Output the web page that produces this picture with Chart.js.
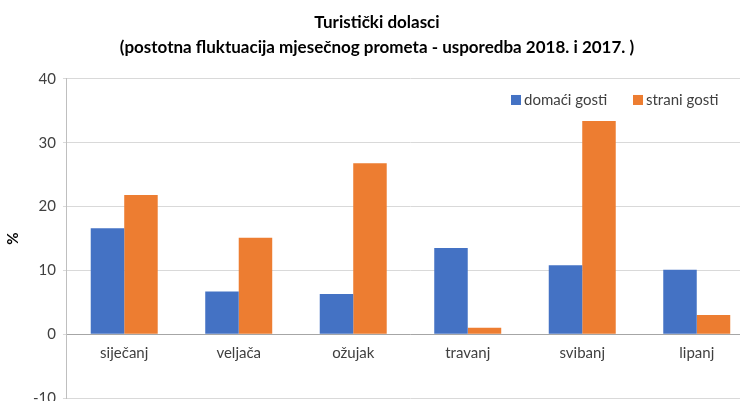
<!DOCTYPE html>
<html lang="hr">
<head>
    <meta charset="UTF-8">
    <title>Turistički dolasci</title>
    <script src="https://cdn.jsdelivr.net/npm/chart.js"></script>
    <style>
        html, body { margin: 0; padding: 0; background: #fff; overflow: hidden; }
        #wrap { width: 758px; height: 414px; }
    </style>
</head>
<body>
    <div id="wrap"><canvas id="chart"></canvas></div>

    <script>
        // podaci
        const months = ["siječanj", "veljača", "ožujak", "travanj", "svibanj", "lipanj"];
        const domestic = [16.6, 6.7, 6.3, 13.5, 10.8, 10.1];
        const foreign = [21.8, 15.1, 26.8, 1.0, 33.4, 3.0];
        const seriesNames = ["domaći gosti", "strani gosti"];
        const titleLines = ["Turistički dolasci", "(postotna fluktuacija mjesečnog prometa - usporedba 2018. i 2017. )"];

        const font = "Lato, 'Open Sans', sans-serif";

        // legenda unutar područja grafa, gore desno
        const innerLegend = {
            id: "innerLegend",
            afterDraw(chart) {
                const c = chart.ctx;
                const area = chart.chartArea;
                c.save();
                c.font = "15px " + font;
                c.textBaseline = "middle";
                let x = 511;
                const y = area.top + 21;
                chart.data.datasets.forEach(ds => {
                    c.fillStyle = ds.backgroundColor;
                    c.fillRect(x, y - 5, 10, 10);
                    c.fillStyle = "#404040";
                    c.fillText(ds.label, x + 13, y);
                    x += 122;
                });
                c.restore();
            }
        };

        new Chart(document.getElementById("chart"), {
            type: "bar",
            data: {
                labels: months,
                datasets: [
                    { label: seriesNames[0], data: domestic, backgroundColor: "#4472c4", borderWidth: 0 },
                    { label: seriesNames[1], data: foreign, backgroundColor: "#ed7d31", borderWidth: 0 }
                ]
            },
            options: {
                responsive: true,
                maintainAspectRatio: false,
                animation: false,
                layout: { padding: { left: 0, right: 4, top: 0, bottom: 0 } },
                datasets: { bar: { categoryPercentage: 0.585, barPercentage: 1 } },
                plugins: {
                    legend: { display: false },
                    tooltip: { enabled: false },
                    title: {
                        display: true,
                        text: titleLines,
                        color: "#000",
                        font: { family: font, size: 17, weight: "bold", lineHeight: 1.47 },
                        padding: { top: 10, bottom: 19 }
                    }
                },
                scales: {
                    x: {
                        position: { y: 0 },
                        grid: { display: false },
                        border: { color: "#a6a6a6", width: 1 },
                        ticks: { color: "#404040", font: { family: font, size: 15 }, padding: 2 }
                    },
                    y: {
                        min: -10,
                        max: 40,
                        ticks: { stepSize: 10, color: "#404040", font: { family: font, size: 15 }, padding: 7 },
                        grid: { color: "#d9d9d9", drawTicks: true, tickLength: 4 },
                        border: { color: "#bfbfbf" },
                        title: { display: true, text: "%", color: "#000", font: { family: font, size: 15, weight: "bold" }, padding: 4 }
                    }
                }
            },
            plugins: [innerLegend]
        });
    </script>
</body>
</html>
